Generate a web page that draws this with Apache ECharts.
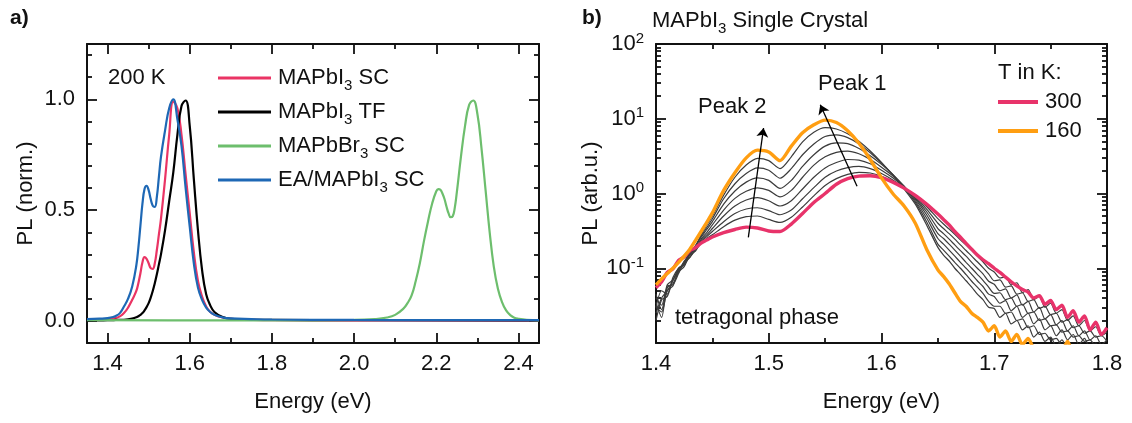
<!DOCTYPE html>
<html>
<head>
<meta charset="utf-8">
<script src="https://cdn.jsdelivr.net/npm/echarts@6.0.0/dist/echarts.min.js"></script>
<style>
  html, body { margin: 0; padding: 0; background: #fff; }
  #chart { width: 1132px; height: 423px; }
</style>
</head>
<body>
<div id="chart"></div>
<script>
// ---------- panel a: normalised PL at 200 K ----------
const energyA = [1.35, 1.38, 1.40, 1.41, 1.42, 1.43, 1.44, 1.45, 1.46, 1.47, 1.475, 1.48, 1.485,
  1.49, 1.495, 1.50, 1.505, 1.51, 1.515, 1.52, 1.525, 1.53, 1.54, 1.55, 1.56, 1.57, 1.58, 1.59,
  1.60, 1.61, 1.62, 1.63, 1.64, 1.65, 1.66, 1.68, 1.70, 1.75, 1.80, 2.00, 2.45];
const mapbi3Sc = [0.004, 0.005, 0.008, 0.01, 0.013, 0.02, 0.035, 0.06, 0.095, 0.135, 0.17, 0.215,
  0.265, 0.288, 0.28, 0.26, 0.238, 0.235, 0.26, 0.32, 0.39, 0.46, 0.64, 0.84, 0.99, 0.96, 0.84,
  0.66, 0.485, 0.31, 0.18, 0.11, 0.065, 0.04, 0.028, 0.015, 0.009, 0.005, 0.003, 0.002, 0.001];
const mapbi3Tf = [0.002, 0.002, 0.003, 0.003, 0.004, 0.004, 0.005, 0.007, 0.01, 0.016, 0.021,
  0.027, 0.035, 0.047, 0.062, 0.08, 0.105, 0.135, 0.17, 0.21, 0.255, 0.3, 0.41, 0.54, 0.67, 0.84,
  0.97, 0.995, 0.88, 0.64, 0.41, 0.23, 0.12, 0.07, 0.04, 0.017, 0.009, 0.005, 0.004, 0.003, 0.002];
const eaMapbi3Sc = [0.008, 0.01, 0.012, 0.016, 0.022, 0.035, 0.065, 0.1, 0.155, 0.25, 0.33, 0.43,
  0.53, 0.595, 0.61, 0.59, 0.55, 0.52, 0.515, 0.56, 0.65, 0.74, 0.86, 0.96, 1.0, 0.91, 0.79, 0.6,
  0.425, 0.26, 0.15, 0.095, 0.06, 0.04, 0.028, 0.016, 0.011, 0.008, 0.006, 0.004, 0.003];
const energyBr = [1.35, 1.60, 1.80, 2.00, 2.05, 2.08, 2.10, 2.12, 2.13, 2.14, 2.15, 2.16, 2.17, 2.18,
  2.19, 2.20, 2.205, 2.21, 2.215, 2.22, 2.225, 2.23, 2.235, 2.24, 2.245, 2.25, 2.26, 2.27, 2.28,
  2.29, 2.30, 2.31, 2.32, 2.33, 2.34, 2.35, 2.36, 2.37, 2.38, 2.39, 2.40, 2.42, 2.45];
const mapbbr3Sc = [0.003, 0.002, 0.002, 0.004, 0.008, 0.015, 0.027, 0.055, 0.08, 0.115, 0.18, 0.26,
  0.36, 0.45, 0.53, 0.585, 0.595, 0.592, 0.575, 0.55, 0.515, 0.485, 0.468, 0.472, 0.51, 0.58, 0.74,
  0.88, 0.975, 0.995, 0.935, 0.78, 0.59, 0.4, 0.245, 0.145, 0.085, 0.047, 0.026, 0.014, 0.009,
  0.004, 0.002];

const ticksAx = [1.4, 1.6, 1.8, 2.0, 2.2, 2.4];
const minorAx = [1.5, 1.7, 1.9, 2.1, 2.3];
const ticksAy = [0, 0.5, 1.0];
const minorAy = [0.1, 0.2, 0.3, 0.4, 0.6, 0.7, 0.8, 0.9, 1.1, 1.2];

// ---------- panel b: MAPbI3 single crystal, 300 K down to 160 K ----------
const energyB = [1.400, 1.405, 1.410, 1.415, 1.420, 1.425, 1.430, 1.435, 1.440, 1.445, 1.450,
  1.46, 1.47, 1.48, 1.49, 1.50, 1.51, 1.52, 1.53, 1.54, 1.55, 1.56, 1.57, 1.58, 1.59, 1.60, 1.61,
  1.62, 1.63, 1.64, 1.65,
  1.655, 1.660, 1.665, 1.670, 1.675, 1.680, 1.685, 1.690, 1.695, 1.700,
  1.705, 1.710, 1.715, 1.720, 1.725, 1.730, 1.735, 1.740, 1.745, 1.750,
  1.755, 1.760, 1.765, 1.770, 1.775, 1.780, 1.785, 1.790, 1.795, 1.800];
const pl300 = [0.055, 0.066, 0.088, 0.098, 0.127, 0.142, 0.172, 0.188, 0.217, 0.238, 0.262,
  0.30, 0.33, 0.355, 0.345, 0.315, 0.31, 0.39, 0.54, 0.76, 1.0, 1.33, 1.58, 1.71, 1.73, 1.63, 1.42,
  1.18, 0.94, 0.72, 0.53,
  0.45, 0.38, 0.31, 0.26, 0.215, 0.18, 0.15, 0.13, 0.115, 0.1,
  0.088, 0.076, 0.066, 0.058, 0.052, 0.048, 0.04, 0.043, 0.033, 0.037,
  0.028, 0.032, 0.022, 0.027, 0.019, 0.023, 0.015, 0.019, 0.013, 0.016];
const pl160 = [0.06, 0.072, 0.085, 0.1, 0.12, 0.145, 0.18, 0.235, 0.31, 0.41, 0.55,
  1.1, 1.9, 3.0, 3.8, 3.6, 2.75, 4.3, 6.5, 8.3, 9.6, 8.9, 6.9, 4.7, 2.85, 1.62, 1.0,
  0.68, 0.4, 0.18, 0.095,
  0.078, 0.062, 0.047, 0.036, 0.031, 0.025, 0.022, 0.019, 0.0145, 0.017,
  0.012, 0.0145, 0.0105, 0.013, 0.0095, 0.0115, 0.0085, 0.008, 0.0075, 0.007,
  0.0068, 0.0075, 0.0105, 0.007, 0.0065, 0.0065, 0.006, 0.006, 0.0058, 0.0055];
const plMid1 = [0.04, 0.032, 0.06, 0.07, 0.095, 0.12, 0.165, 0.2, 0.28, 0.38, 0.5,
  0.95, 1.65, 2.4, 2.95, 2.75, 2.15, 3.1, 4.9, 6.6, 7.6, 7.3, 6.3, 5.0, 3.7, 2.6, 1.75,
  1.15, 0.72, 0.38, 0.19,
  0.15, 0.125, 0.1, 0.083, 0.068, 0.056, 0.045, 0.038, 0.03, 0.029,
  0.022, 0.025, 0.018, 0.02, 0.015, 0.017, 0.012, 0.014, 0.0105, 0.012,
  0.009, 0.011, 0.0085, 0.0095, 0.008, 0.009, 0.0075, 0.008, 0.007, 0.0075];
const plMid2 = [0.03, 0.05, 0.045, 0.075, 0.1, 0.115, 0.16, 0.19, 0.27, 0.35, 0.46,
  0.85, 1.35, 1.85, 2.2, 2.05, 1.6, 2.15, 3.3, 4.6, 5.8, 6.1, 5.6, 4.6, 3.5, 2.55, 1.8,
  1.2, 0.76, 0.42, 0.21,
  0.175, 0.145, 0.12, 0.1, 0.082, 0.067, 0.056, 0.046, 0.036, 0.031,
  0.031, 0.025, 0.026, 0.02, 0.021, 0.016, 0.017, 0.013, 0.0135, 0.011,
  0.0115, 0.0095, 0.01, 0.0085, 0.009, 0.0078, 0.0082, 0.0072, 0.0076, 0.007];
const plMid3 = [0.045, 0.028, 0.055, 0.062, 0.09, 0.125, 0.15, 0.2, 0.26, 0.33, 0.42,
  0.72, 1.08, 1.42, 1.62, 1.5, 1.17, 1.5, 2.3, 3.3, 4.3, 4.75, 4.65, 4.0, 3.2, 2.45, 1.8,
  1.25, 0.8, 0.47, 0.25,
  0.21, 0.175, 0.145, 0.12, 0.1, 0.083, 0.068, 0.057, 0.045, 0.042,
  0.034, 0.037, 0.027, 0.031, 0.022, 0.025, 0.018, 0.021, 0.015, 0.017,
  0.0125, 0.015, 0.011, 0.013, 0.0095, 0.0115, 0.0085, 0.01, 0.008, 0.009];
const plMid4 = [0.025, 0.04, 0.05, 0.068, 0.1, 0.11, 0.155, 0.18, 0.245, 0.3, 0.38,
  0.6, 0.86, 1.07, 1.19, 1.1, 0.9, 1.1, 1.65, 2.4, 3.1, 3.55, 3.7, 3.4, 2.85, 2.25, 1.72,
  1.25, 0.84, 0.52, 0.29,
  0.25, 0.21, 0.175, 0.145, 0.12, 0.1, 0.083, 0.069, 0.056, 0.046,
  0.047, 0.038, 0.04, 0.031, 0.033, 0.025, 0.026, 0.02, 0.021, 0.017,
  0.0175, 0.014, 0.0145, 0.012, 0.0125, 0.0105, 0.011, 0.009, 0.0095, 0.0085];
const plMid5 = [0.035, 0.022, 0.058, 0.06, 0.085, 0.12, 0.14, 0.185, 0.235, 0.28, 0.34,
  0.5, 0.68, 0.82, 0.88, 0.8, 0.68, 0.8, 1.15, 1.65, 2.2, 2.6, 2.85, 2.8, 2.5, 2.05, 1.62,
  1.22, 0.87, 0.57, 0.34,
  0.29, 0.245, 0.205, 0.172, 0.145, 0.12, 0.1, 0.084, 0.067, 0.061,
  0.05, 0.053, 0.04, 0.044, 0.032, 0.036, 0.026, 0.03, 0.021, 0.024,
  0.0175, 0.02, 0.0145, 0.017, 0.0125, 0.0145, 0.011, 0.0125, 0.0095, 0.011];
const plMid6 = [0.02, 0.038, 0.042, 0.07, 0.09, 0.105, 0.15, 0.17, 0.225, 0.265, 0.31,
  0.42, 0.54, 0.62, 0.645, 0.59, 0.52, 0.6, 0.85, 1.2, 1.65, 2.0, 2.22, 2.3, 2.15, 1.85, 1.52,
  1.2, 0.9, 0.62, 0.4,
  0.34, 0.29, 0.245, 0.205, 0.173, 0.145, 0.122, 0.102, 0.084, 0.068,
  0.07, 0.056, 0.058, 0.045, 0.047, 0.036, 0.038, 0.029, 0.031, 0.024,
  0.025, 0.019, 0.0205, 0.016, 0.017, 0.0135, 0.0145, 0.012, 0.0125, 0.0105];
const plMid7 = [0.03, 0.026, 0.05, 0.058, 0.095, 0.115, 0.14, 0.175, 0.215, 0.25, 0.28,
  0.36, 0.44, 0.49, 0.5, 0.45, 0.41, 0.48, 0.66, 0.93, 1.28, 1.58, 1.8, 1.92, 1.88, 1.7, 1.45,
  1.17, 0.92, 0.67, 0.46,
  0.39, 0.335, 0.285, 0.24, 0.205, 0.172, 0.145, 0.122, 0.1, 0.089,
  0.074, 0.077, 0.06, 0.064, 0.047, 0.052, 0.038, 0.042, 0.03, 0.034,
  0.025, 0.028, 0.02, 0.023, 0.017, 0.02, 0.0145, 0.0165, 0.0125, 0.014];

// arrows marking the shift of the two emission peaks on cooling
const peak1Arrow = [[1.5783, 1.25], [1.5457, 15.4]];
const peak2Arrow = [[1.4819, 0.259], [1.4954, 7.52]];

// ---------- styling ----------
const FONT = "'Liberation Sans', Arial, Helvetica, sans-serif";
const INK = '#111111';
const FS = 22;
const C_RED = '#EA3464';
const C_BLACK = '#000000';
const C_GREEN = '#6DBE6D';
const C_BLUE = '#1E68B5';
const C_300 = '#E8336A';
const C_160 = '#FF9E12';
const C_MID = '#3c3c3c';

// decade subdivisions (2..9) of the log axis, expressed in log10 units
const logMinor = [];
for (let n = -2; n <= 1; n++) {
  for (let k = 2; k <= 9; k++) logMinor.push(Math.log10(k * Math.pow(10, n)));
}

const pairs = (xs, ys) => xs.map((x, i) => [x, ys[i]]);

function frameAxis(o) {
  return {
    gridIndex: o.grid,
    type: o.type || 'value',
    position: o.position,
    min: o.min,
    max: o.max,
    interval: o.interval,
    logBase: o.logBase,
    axisLine: { show: o.line !== false, onZero: false, lineStyle: { color: INK, width: 2 } },
    axisTick: Object.assign({
      show: true, inside: true, length: o.minor ? 5 : 10,
      lineStyle: { color: INK, width: 1.8 }
    }, o.ticks ? { customValues: o.ticks } : {}),
    minorTick: o.minorTick ? { show: true, splitNumber: 2, length: 5, lineStyle: { color: INK, width: 1.8 } } : { show: false },
    axisLabel: o.label ? o.label : { show: false },
    splitLine: { show: false },
    minorSplitLine: { show: false },
    name: o.name,
    nameLocation: 'middle',
    nameGap: o.nameGap,
    nameTextStyle: { fontSize: FS, fontFamily: FONT, color: INK },
    axisPointer: { show: false },
    silent: true
  };
}

const plainLabel = (values, margin) => Object.assign({
  show: true, margin: margin, fontSize: FS, fontFamily: FONT, color: INK,
  formatter: v => Number(v).toFixed(1)
}, values ? { customValues: values } : {});

const xAxes = [
  // panel a
  frameAxis({ grid: 0, position: 'bottom', min: 1.35, max: 2.45, ticks: ticksAx,
    label: plainLabel(ticksAx, 10), name: 'Energy (eV)', nameGap: 48 }),
  frameAxis({ grid: 0, position: 'bottom', min: 1.35, max: 2.45, ticks: minorAx, minor: true, line: false }),
  frameAxis({ grid: 0, position: 'top', min: 1.35, max: 2.45, ticks: ticksAx }),
  frameAxis({ grid: 0, position: 'top', min: 1.35, max: 2.45, ticks: minorAx, minor: true, line: false }),
  // panel b
  frameAxis({ grid: 1, position: 'bottom', min: 1.4, max: 1.8, interval: 0.1, minorTick: true,
    label: plainLabel(null, 10), name: 'Energy (eV)', nameGap: 48 }),
  frameAxis({ grid: 1, position: 'top', min: 1.4, max: 1.8, interval: 0.1, minorTick: true })
];

const yAxes = [
  // panel a
  frameAxis({ grid: 0, position: 'left', min: -0.1, max: 1.25, ticks: ticksAy,
    label: plainLabel(ticksAy, 12), name: 'PL (norm.)', nameGap: 50 }),
  frameAxis({ grid: 0, position: 'left', min: -0.1, max: 1.25, ticks: minorAy, minor: true, line: false }),
  frameAxis({ grid: 0, position: 'right', min: -0.1, max: 1.25, ticks: ticksAy }),
  frameAxis({ grid: 0, position: 'right', min: -0.1, max: 1.25, ticks: minorAy, minor: true, line: false }),
  // panel b (log axis plus its decade subdivisions)
  frameAxis({ grid: 1, type: 'log', logBase: 10, position: 'left', min: 0.01, max: 100,
    label: {
      show: true, margin: 12, showMinLabel: false,
      formatter: v => '{b|10}{s|' + Math.round(Math.log10(v)) + '}',
      rich: {
        b: { fontSize: FS, fontFamily: FONT, color: INK, lineHeight: 26 },
        s: { fontSize: 15, fontFamily: FONT, color: INK, verticalAlign: 'top', lineHeight: 16 }
      }
    },
    name: 'PL (arb.u.)', nameGap: 52 }),
  frameAxis({ grid: 1, position: 'left', min: -2, max: 2, ticks: logMinor, minor: true, line: false }),
  frameAxis({ grid: 1, type: 'log', logBase: 10, position: 'right', min: 0.01, max: 100 }),
  frameAxis({ grid: 1, position: 'right', min: -2, max: 2, ticks: logMinor, minor: true, line: false })
];

function lineSeries(name, data, color, width, xi, yi, extra) {
  return Object.assign({
    type: 'line', name: name, data: data,
    xAxisIndex: xi, yAxisIndex: yi,
    showSymbol: false, symbol: 'none', smooth: 0.45, clip: true,
    lineStyle: { color: color, width: width },
    itemStyle: { color: color },
    emphasis: { disabled: true }, silent: true
  }, extra || {});
}

const midCurves = [plMid1, plMid2, plMid3, plMid4, plMid5, plMid6, plMid7];

const series = [
  lineSeries('MAPbI3 SC', pairs(energyA, mapbi3Sc), C_RED, 2.2, 0, 0),
  lineSeries('MAPbI3 TF', pairs(energyA, mapbi3Tf), C_BLACK, 2.2, 0, 0),
  lineSeries('MAPbBr3 SC', pairs(energyBr, mapbbr3Sc), C_GREEN, 2.2, 0, 0),
  lineSeries('EA/MAPbI3 SC', pairs(energyA, eaMapbi3Sc), C_BLUE, 2.2, 0, 0)
];
midCurves.forEach((c, i) => {
  series.push(lineSeries('mid' + (i + 1), pairs(energyB, c), C_MID, 1.2, 4, 4, { smooth: 0.25 }));
});
series.push(lineSeries('300', pairs(energyB, pl300), C_300, 3.4, 4, 4, {
  smooth: 0.25,
  markLine: {
    silent: true, symbol: ['none', 'arrow'], symbolSize: 9, animation: false,
    lineStyle: { color: '#000', width: 1.3, type: 'solid' },
    label: { show: false },
    emphasis: { disabled: true },
    data: [
      [{ coord: peak1Arrow[0] }, { coord: peak1Arrow[1] }],
      [{ coord: peak2Arrow[0] }, { coord: peak2Arrow[1] }]
    ]
  }
}));
series.push(lineSeries('160', pairs(energyB, pl160), C_160, 3.4, 4, 4, { smooth: 0.25 }));

const subRich = {
  t: { fontSize: FS, fontFamily: FONT, color: INK, lineHeight: 30 },
  s: { fontSize: 15, fontFamily: FONT, color: INK, verticalAlign: 'bottom', lineHeight: 14 }
};

function textEl(x, y, text, extra) {
  return {
    type: 'text', x: x, y: y, silent: true,
    style: Object.assign({ text: text, fontSize: FS, fontFamily: FONT, fill: INK, verticalAlign: 'middle' }, extra || {})
  };
}

const option = {
  animation: false,
  backgroundColor: '#ffffff',
  textStyle: { fontFamily: FONT },
  grid: [
    { left: 87, top: 44, right: 593, bottom: 80, outerBoundsMode: 'none' },
    { left: 656, top: 44, right: 25, bottom: 80, outerBoundsMode: 'none' }
  ],
  xAxis: xAxes,
  yAxis: yAxes,
  legend: [
    {
      data: ['MAPbI3 SC', 'MAPbI3 TF', 'MAPbBr3 SC', 'EA/MAPbI3 SC'],
      orient: 'vertical', left: 218, top: 67, padding: 0,
      icon: 'rect', itemWidth: 53, itemHeight: 3, itemGap: 8, selectedMode: false,
      formatter: name => '{t|' + name.replace('3', '}{s|3}{t|') + '}',
      textStyle: { padding: [0, 0, 0, 2], rich: subRich }
    },
    {
      data: ['300', '160'],
      orient: 'vertical', left: 998, top: 90, padding: 0,
      icon: 'rect', itemWidth: 40, itemHeight: 4, itemGap: 5, selectedMode: false,
      textStyle: { fontSize: FS, fontFamily: FONT, color: INK, lineHeight: 24, padding: [0, 0, 0, 2] }
    }
  ],
  graphic: [
    textEl(10, 18, 'a)', { fontWeight: 'bold', fontSize: 21 }),
    textEl(582, 18, 'b)', { fontWeight: 'bold', fontSize: 21 }),
    textEl(652, 21, '{t|MAPbI}{s|3}{t| Single Crystal}', { rich: subRich }),
    textEl(108, 78, '200 K'),
    textEl(818, 84, 'Peak 1'),
    textEl(698, 107, 'Peak 2'),
    textEl(675, 318, 'tetragonal phase'),
    textEl(998, 73, 'T in K:')
  ],
  series: series
};

const chart = echarts.init(document.getElementById('chart'), null, { renderer: 'canvas' });
chart.setOption(option);
</script>
</body>
</html>
